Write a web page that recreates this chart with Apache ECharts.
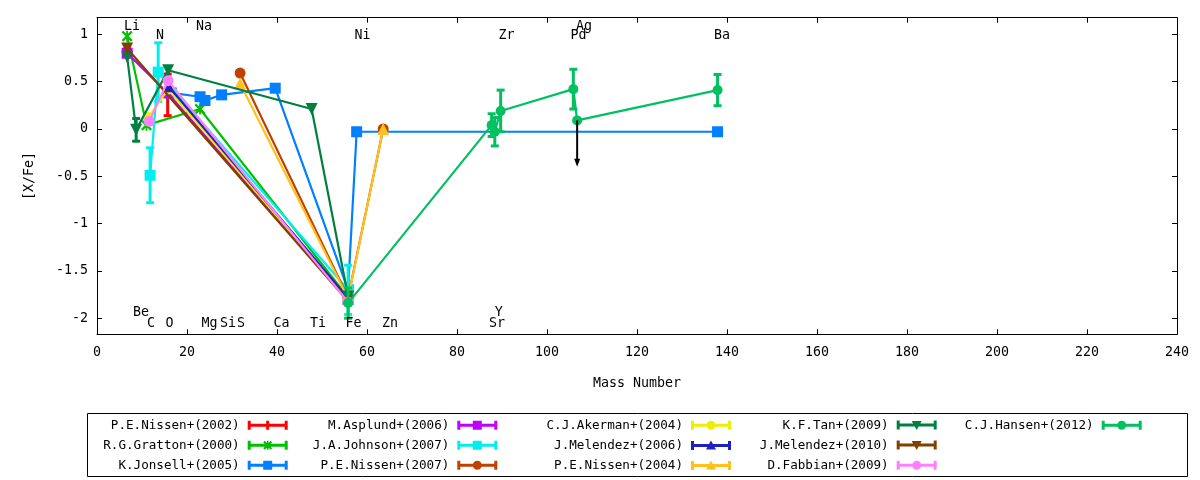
<!DOCTYPE html>
<html><head><meta charset="utf-8">
<script src="https://cdn.jsdelivr.net/npm/echarts@6/dist/echarts.min.js"></script>
<style>html,body{margin:0;padding:0;background:#fff}#c{width:1200px;height:480px}</style>
</head><body><div id="c"></div>
<script>
// ---------- DATA: [mass number, [X/Fe], error] ----------
const nissen2002   = [[15.7, 0.36, 0.22], [55.8, -1.80, 0]];
const gratton2000  = [[6.7, 0.98, 0], [11.0, 0.04, 0], [22.9, 0.21, 0], [55.8, -1.78, 0]];
const jonsell2005  = [[16.5, 0.38, 0], [22.9, 0.34, 0], [24.0, 0.30, 0], [27.7, 0.36, 0], [39.6, 0.43, 0], [55.8, -1.70, 0], [57.7, -0.03, 0], [137.9, -0.03, 0]];
const asplund2006  = [[6.7, 0.80, 0], [15.7, 0.38, 0], [55.8, -1.80, 0]];
const johnson2007  = [[11.8, -0.49, 0.29], [13.6, 0.60, 0.31], [55.8, -1.70, 0.26]];
const nissen2007   = [[31.8, 0.59, 0], [55.8, -1.78, 0], [63.6, 0.00, 0]];
const akerman2004  = [[11.4, 0.12, 0], [15.8, 0.42, 0], [55.8, -1.80, 0]];
const melendez2006 = [[15.9, 0.45, 0], [55.8, -1.79, 0]];
const nissen2004   = [[31.8, 0.48, 0], [55.8, -1.79, 0], [63.6, 0.00, 0]];
const tan2009      = [[6.7, 0.76, 0], [8.7, -0.01, 0.12], [15.8, 0.62, 0], [47.7, 0.21, 0], [55.8, -1.77, 0]];
const melendez2010 = [[6.7, 0.85, 0], [55.8, -1.82, 0]];
const fabbian2009  = [[11.6, 0.08, 0], [15.8, 0.51, 0], [55.8, -1.83, 0]];
const hansen2012   = [[55.8, -1.84, 0.16], [87.7, 0.04, 0.12], [88.4, -0.03, 0.15], [89.7, 0.19, 0.22], [105.85, 0.42, 0.21], [106.7, 0.09, 0], [137.9, 0.41, 0.165]];
// upper limit (Ag, Hansen+2012): [mass, value, arrow end]
const hansenUpperLimit = [[106.7, 0.09, -0.40]];

const seriesNames = ['P.E.Nissen+(2002)','R.G.Gratton+(2000)','K.Jonsell+(2005)','M.Asplund+(2006)','J.A.Johnson+(2007)','P.E.Nissen+(2007)','C.J.Akerman+(2004)','J.Melendez+(2006)','P.E.Nissen+(2004)','K.F.Tan+(2009)','J.Melendez+(2010)','D.Fabbian+(2009)','C.J.Hansen+(2012)'];
const seriesData = [nissen2002, gratton2000, jonsell2005, asplund2006, johnson2007, nissen2007, akerman2004, melendez2006, nissen2004, tan2009, melendez2010, fabbian2009, hansen2012];

// element labels: [name, mass position, [X/Fe] position]
const elementLabels = [['Li',7.8,1.078],['Be',9.8,-1.94],['C',12.0,-2.06],['N',14.0,0.985],['O',16.1,-2.06],['Na',23.8,1.078],['Mg',25.0,-2.06],['Si',29.1,-2.06],['S',32.0,-2.06],['Ca',41.0,-2.06],['Ti',49.1,-2.06],['Fe',57.0,-2.06],['Ni',59.0,0.985],['Zn',65.1,-2.06],['Y',89.3,-1.94],['Sr',88.9,-2.06],['Zr',91.0,0.985],['Ag',108.2,1.078],['Pd',107.0,0.985],['Ba',138.9,0.985]];

const xTicks = [0,20,40,60,80,100,120,140,160,180,200,220,240];
const yTicks = [-2,-1.5,-1,-0.5,0,0.5,1];

// ---------- STYLE ----------
const colors = ['#ff0000','#00c000','#0080ff','#c000ff','#00eeee','#c04000','#eeee00','#2020c0','#ffc020','#008040','#804000','#ff80ff','#00c060'];
const PLUS = 'path://M4,0H6V10H4Z M0,4H10V6H0Z';
const STAR = 'path://M0,1.5L1.5,0L5,3.5L8.5,0L10,1.5L6.5,5L10,8.5L8.5,10L5,6.5L1.5,10L0,8.5L3.5,5Z M4.2,0H5.8V10H4.2Z';
const markers = [
  {s:PLUS,size:10,r:0,k:'plus'},{s:STAR,size:11,r:0,k:'star'},{s:'rect',size:11,r:0,k:'sq'},{s:'rect',size:11,r:0,k:'sq'},
  {s:'rect',size:11,r:0,k:'sq'},{s:'circle',size:11,r:0,k:'ci'},{s:'circle',size:11,r:0,k:'ci'},{s:'triangle',size:12,r:0,k:'tu'},
  {s:'triangle',size:12,r:0,k:'tu'},{s:'triangle',size:12,r:180,k:'td'},{s:'triangle',size:12,r:180,k:'td'},{s:'circle',size:11,r:0,k:'ci'},{s:'circle',size:10,r:0,k:'ci'}];
const base = 'M0,3.5H40V6.5H0Z M0,0.5H3V9.5H0Z M37,0.5H40V9.5H37Z';
const iconMark = {
  plus:'M18.5,0.5H21.5V9.5H18.5Z',
  star:'M15.5,2L17,0.5L24.5,8L23,9.5Z M23,0.5L24.5,2L17,9.5L15.5,8Z M19.2,0.5H20.8V9.5H19.2Z',
  sq:'M15.5,0.5H24.5V9.5H15.5Z',
  ci:'M24.5,5A4.5,4.5,0,1,1,15.5,5A4.5,4.5,0,1,1,24.5,5Z',
  tu:'M20,0L25,9H15Z',
  td:'M15,1H25L20,10Z'
};
const FONT = 'DejaVu Sans Mono';
const FS = 13.3;
const LFS = 12.6;

const series = [];
seriesData.forEach((d, i) => {
  const c = colors[i], m = markers[i];
  series.push({
    name: seriesNames[i], type: 'line', data: d.map(p => [p[0], p[1]]),
    symbol: m.s, symbolSize: m.size, symbolRotate: m.r, showAllSymbol: true,
    lineStyle: {color: c, width: 2.2}, itemStyle: {color: c, borderWidth: 0},
    z: 10 + i, silent: true, clip: true
  });
  const errs = d.filter(p => p[2] > 0);
  if (errs.length) {
    series.push({
      name: seriesNames[i], type: 'custom', data: errs, z: 10 + i, silent: true,
      encode: {x: 0, y: 1},
      renderItem: (params, api) => {
        const x = api.value(0), y = api.value(1), e = api.value(2);
        const t = api.coord([x, y + e]), b = api.coord([x, y - e]);
        const hw = 4, st = {stroke: c, lineWidth: 3};
        return {type: 'group', children: [
          {type: 'line', shape: {x1: t[0], y1: t[1], x2: b[0], y2: b[1]}, style: st},
          {type: 'line', shape: {x1: t[0]-hw, y1: t[1], x2: t[0]+hw, y2: t[1]}, style: st},
          {type: 'line', shape: {x1: b[0]-hw, y1: b[1], x2: b[0]+hw, y2: b[1]}, style: st}
        ]};
      }
    });
  }
});
// upper-limit arrow
series.push({
  type: 'custom', data: hansenUpperLimit, z: 30, silent: true, encode: {x: 0, y: 1},
  renderItem: (params, api) => {
    const p = api.coord([api.value(0), api.value(1)]);
    const q = api.coord([api.value(0), api.value(2)]);
    return {type: 'group', children: [
      {type: 'line', shape: {x1: p[0], y1: p[1], x2: q[0], y2: q[1]-4}, style: {stroke: '#000', lineWidth: 2}},
      {type: 'polygon', shape: {points: [[q[0]-3, q[1]-8], [q[0]+3, q[1]-8], [q[0], q[1]]]}, style: {fill: '#000'}}
    ]};
  }
});
// element labels
series.push({
  type: 'custom', data: elementLabels.map(l => [l[1], l[2]]), z: 40, silent: true, encode: {x: 0, y: 1},
  renderItem: (params, api) => {
    const p = api.coord([api.value(0), api.value(1)]);
    return {type: 'text', x: p[0], y: p[1], style: {text: elementLabels[params.dataIndex][0], fill: '#000',
      font: FS + 'px "' + FONT + '"', align: 'center', verticalAlign: 'middle'}};
  }
});

const colRight = [912.3, 702.7, 469, 263.3, 58.3];
const rowCenter = [424.3, 444.3, 464.3];
const legends = seriesNames.map((n, k) => ({
  data: [n], orient: 'horizontal', align: 'right', selectedMode: false, padding: 0,
  right: colRight[Math.floor(k / 3)], top: rowCenter[k % 3] - 5.5,
  icon: 'path://' + base + ' ' + iconMark[markers[k].k], itemWidth: 40, itemHeight: 10,
  itemStyle: {borderWidth: 0},
  textStyle: {fontFamily: FONT, fontSize: LFS, color: '#000', padding: [0, 3, 0, 0]}
}));

const axisCommon = {
  type: 'value', splitLine: {show: false},
  axisLine: {show: true, onZero: false, lineStyle: {color: '#000', width: 1}},
  axisTick: {show: true, inside: true, length: 5, lineStyle: {color: '#000'}}
};
const option = {
  animation: false,
  grid: {left: 97, right: 23, top: 17.7, bottom: 145.7, show: false},
  xAxis: [
    Object.assign({}, axisCommon, {min: 0, max: 240, interval: 20, position: 'bottom',
      axisTick: Object.assign({}, axisCommon.axisTick, {customValues: xTicks}),
      axisLabel: {customValues: xTicks, color: '#000', fontFamily: FONT, fontSize: FS, margin: 12},
      name: 'Mass Number', nameLocation: 'middle', nameGap: 43,
      nameTextStyle: {color: '#000', fontFamily: FONT, fontSize: FS}}),
    Object.assign({}, axisCommon, {min: 0, max: 240, interval: 20, position: 'top',
      axisTick: Object.assign({}, axisCommon.axisTick, {customValues: xTicks}),
      axisLabel: {show: false}})
  ],
  yAxis: [
    Object.assign({}, axisCommon, {min: -2.17, max: 1.175, position: 'left',
      axisTick: Object.assign({}, axisCommon.axisTick, {customValues: yTicks}),
      axisLabel: {customValues: yTicks, color: '#000', fontFamily: FONT, fontSize: FS, margin: 9},
      name: '[X/Fe]', nameLocation: 'middle', nameGap: 61, nameRotate: 90,
      nameTextStyle: {color: '#000', fontFamily: FONT, fontSize: FS}}),
    Object.assign({}, axisCommon, {min: -2.17, max: 1.175, position: 'right',
      axisTick: Object.assign({}, axisCommon.axisTick, {customValues: yTicks}),
      axisLabel: {show: false}})
  ],
  legend: legends,
  graphic: [{type: 'rect', shape: {x: 87.5, y: 413.5, width: 1100, height: 63}, style: {fill: 'none', stroke: '#000', lineWidth: 1}, silent: true}],
  series: series
};
const chart = echarts.init(document.getElementById('c'), null, {renderer: 'canvas'});
chart.setOption(option);
</script></body></html>
